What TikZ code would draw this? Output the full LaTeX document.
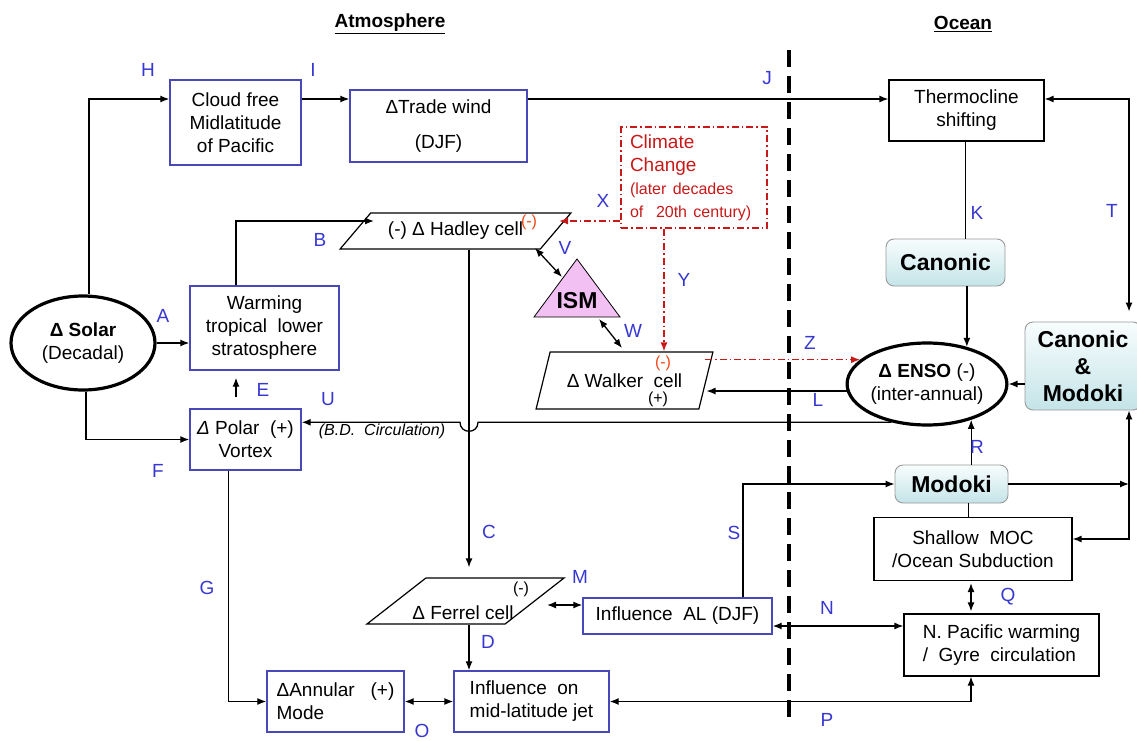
\documentclass[tikz,border=0pt]{standalone}
\usepackage{fontspec}
\setmainfont{Liberation Sans}
\usepackage{tikz}
\usetikzlibrary{arrows.meta,positioning,calc,shapes.geometric}

\definecolor{boxblue}{RGB}{72,72,185}
\definecolor{lblblue}{RGB}{55,55,210}
\definecolor{ccred}{RGB}{200,25,25}
\definecolor{signred}{RGB}{240,70,20}
\definecolor{ismpink}{RGB}{242,192,242}
\definecolor{tealtop}{RGB}{248,253,253}
\definecolor{tealbot}{RGB}{196,228,232}

\newcommand{\bodyfont}{\fontsize{19}{23}\selectfont}
\newcommand{\smallfont}{\fontsize{16}{19}\selectfont}
\newcommand{\bigbold}{\fontsize{23}{27}\selectfont\bfseries}

\begin{document}
\begin{tikzpicture}[
  x={(1pt,0pt)},
  y={(0pt,-1pt)},
  bluebox/.style={draw=boxblue,line width=1.4pt,inner sep=0pt,align=center,font=\bodyfont},
  blackbox/.style={draw=black,line width=1.2pt,inner sep=0pt,align=center,font=\bodyfont},
  oval/.style={draw,ellipse,line width=3.2pt,inner sep=0pt,align=center,font=\bodyfont},
  para/.style={draw,trapezium,trapezium stretches=true,line width=1.2pt,inner sep=0pt,font=\bodyfont},
  tealbox/.style={draw=gray!80,line width=0.9pt,rounded corners=8pt,top color=tealtop,bottom color=tealbot,inner sep=0pt,align=center,font=\bigbold},
  ccbox/.style={draw=ccred,text=ccred,line width=1.2pt,dash pattern=on 7pt off 3pt on 1.5pt off 3pt,inner sep=0pt,inner xsep=9pt,align=left,font=\bodyfont},
  lbl/.style={text=lblblue,font=\bodyfont,inner sep=0pt},
  sign/.style={font=\smallfont,inner sep=0pt},
  arr/.style={-{Latex[length=9pt,width=7pt]},line width=1.3pt},
  darr/.style={{Latex[length=9pt,width=7pt]}-{Latex[length=9pt,width=7pt]},line width=1.3pt},
  ccarr/.style={-{Latex[length=9pt,width=7pt]},color=ccred,line width=1.3pt,dash pattern=on 7pt off 3pt on 1.5pt off 3pt}]
\useasboundingbox (0,0) rectangle (1137,741);
% Headings and the atmosphere / ocean divide
\node[font=\bodyfont\bfseries] (atm) at (390,24) {\underline{Atmosphere}};
\node[font=\bodyfont\bfseries] (oce) at (963,24) {\underline{Ocean}};
\draw[line width=4pt,dash pattern=on 17pt off 9pt] (789,50) -- (789,722);
% Atmosphere side boxes
\node[oval,minimum width=144pt,minimum height=94pt] (solar) at (83,343) {{\bfseries Δ Solar}\\(Decadal)};
\node[bluebox,minimum width=131pt,minimum height=85pt] (cloud) at (235.5,122.5) {Cloud free\\Midlatitude\\of Pacific};
\node[bluebox,minimum width=177pt,minimum height=72pt] (trade) at (438.5,126) {ΔTrade wind\\[12pt](DJF)};
\node[bluebox,minimum width=149pt,minimum height=84pt] (warming) at (264.5,328) {Warming\\tropical\ \ lower\\stratosphere};
\node[bluebox,minimum width=111pt,minimum height=61pt] (polar) at (245.5,439.5) {\textit{Δ} Polar\ \ (+)\\Vortex};
\node[bluebox,minimum width=137pt,minimum height=61pt,align=left] (annular) at (335.5,701.5) {ΔAnnular\ \ \ (+)\\Mode};
\node[bluebox,minimum width=155pt,minimum height=61pt,align=left] (jet) at (531.5,701.5) {Influence\ \ on\\mid-latitude jet};
\node[bluebox,minimum width=189pt,minimum height=36pt] (al) at (677.5,616) {Influence\ \ AL (DJF)};
\node[ccbox,text width=128pt,minimum height=101pt] (climate) at (694,177.5) {Climate\\Change\\{\smallfont(later decades}\\{\smallfont of\ \ 20th century)}};
% Circulation cells
\node[para,trapezium left angle=36,trapezium right angle=144,minimum width=231pt,minimum height=36pt] (hadley) at (455.5,231) {(-) Δ Hadley cell};
\node[para,trapezium left angle=52,trapezium right angle=128,minimum width=177pt,minimum height=57pt] (walker) at (624.5,380.5) {Δ Walker\ \ cell};
\node[para,trapezium left angle=48,trapezium right angle=132,minimum width=197pt,minimum height=46pt] (ferrel) at (465.5,601) {\phantom{M}};
\node[font=\bodyfont,inner sep=0pt] (fertxt) at (463,613) {Δ Ferrel cell};
\node[sign,text=signred] (hadsign) at (529,222) {(-)};
\node[sign,text=signred] (walksign) at (663,363) {(-)};
\node[sign] (walkplus) at (658,399) {(+)};
\node[sign] (fersign) at (521,589) {(-)};
% Indian summer monsoon
\draw[fill=ismpink,line width=0.8pt] (577,259) -- (620,317) -- (534,317) -- cycle;
\node[font=\bigbold,inner sep=0pt] (ism) at (577,301) {ISM};
% Ocean side boxes
\node[blackbox,minimum width=155pt,minimum height=61pt] (thermo) at (966.5,110.5) {Thermocline\\shifting};
\node[tealbox,minimum width=119pt,minimum height=47pt] (canonic) at (945.5,262.5) {Canonic};
\node[oval,minimum width=142pt,minimum height=82pt] (enso) at (927,384) {{\bfseries Δ ENSO} (-)\\(inter-annual)};
\node[tealbox,minimum width=116pt,minimum height=88pt] (canmod) at (1083,366) {Canonic\\\&\\Modoki};
\node[tealbox,minimum width=113pt,minimum height=38pt] (modoki) at (951.5,484) {Modoki};
\node[blackbox,minimum width=198pt,minimum height=63pt] (shallow) at (973,549) {Shallow\ \ MOC\\/Ocean Subduction};
\node[blackbox,minimum width=195pt,minimum height=62pt,align=left] (npac) at (1001.5,645) {N. Pacific warming\\/\ \ Gyre\ \ circulation};
% Helper rows, columns and end points
\coordinate (toprow) at (0,99);
\coordinate (shrow) at (0,539);
\coordinate (nrow) at (0,626);
\coordinate (tcol) at (1129,0);
\coordinate (kcol) at (965,0);
\coordinate (rcol) at (968,0);
\coordinate (qcol) at (971,0);
\coordinate (ccol) at (469,0);
\coordinate (ecol) at (236,0);
\coordinate (ycol) at (664,0);
\coordinate (scol) at (743,0);
\coordinate (zcol) at (705,0);
\coordinate (hadB) at (374,221);
\coordinate (hadX) at (559,221);
\coordinate (hadV) at (535,248);
\coordinate (ismV) at (562,277);
\coordinate (ismW) at (599,319);
\coordinate (walkW) at (622,348);
\coordinate (ferM) at (547,605);
% Solar pathways
\draw[arr] ([xshift=6pt]solar.north) |- (cloud.west |- toprow);
\draw[arr] (cloud.east |- toprow) -- (trade.west |- toprow);
\draw[arr] (trade.east |- toprow) -- (thermo.west |- toprow);
\draw[arr] (solar.east) -- (solar.east -| warming.west);
\draw[arr] ([xshift=3pt]solar.south) |- (polar.west);
\draw[arr,shorten <=11pt,shorten >=7pt] (polar.north -| ecol) -- (warming.south -| ecol);
\draw[arr] (warming.north -| ecol) |- (hadB);
\draw[arr] ([xshift=-17pt]polar.south) |- (annular.west);
\draw[darr] (annular.east) -- (jet.west);
% Hadley -> Ferrel -> jet
\draw[arr,shorten >=10pt] (hadley.south -| ccol) -- (ferrel.north -| ccol);
\draw[arr] (ferrel.south -| ccol) -- (jet.north -| ccol);
\draw[darr] (ferM) -- (ferM -| al.west);
\draw[darr] (al.east |- nrow) -- (npac.west |- nrow);
\draw[arr] (al.north -| scol) |- (modoki.west);
\draw[darr] (npac.south -| qcol) |- (jet.east);
% Monsoon links
\draw[darr] (hadV) -- (ismV);
\draw[darr] (ismW) -- (walkW);
% Climate change (dash-dot)
\draw[ccarr] (climate.west |- hadX) -- (hadX);
\draw[ccarr] (climate.south -| ycol) -- (walker.north -| ycol);
\draw[ccarr] (enso.160 -| zcol) -- (enso.160);
% Ocean links
\draw[line width=1pt] (thermo.south -| kcol) -- (canonic.north -| kcol);
\draw[arr] (canonic.south -| enso.43) -- (enso.43);
\draw[arr] (canmod.west |- enso.east) -- (enso.east);
\draw[arr] (enso.185) -- (enso.185 -| walker.east);
\draw[darr,shorten <=10pt] (tcol |- canmod.north) |- (thermo.east |- toprow);
\draw[arr] (modoki.north -| enso.-39) -- (enso.-39);
\draw[line width=1pt] (modoki.south -| rcol) -- (shallow.north -| rcol);
\draw[arr] (modoki.east) -- (modoki.east -| tcol);
\draw[darr] (shallow.east |- shrow) -| (tcol |- canmod.south);
\draw[darr,shorten <=2pt,shorten >=2pt] (shallow.south -| qcol) -- (npac.north -| qcol);
% B.D. circulation back to the polar vortex, hopping over C
\draw[arr] (enso.227) -- ([xshift=9pt]ccol |- enso.227) .. controls +(0,12) and +(0,12) .. ([xshift=-9pt]ccol |- enso.227) -- (polar.east |- enso.227);
\node[font=\smallfont\itshape,inner sep=0pt] (bdc) at (382,431) {(B.D.\ \ Circulation)};
% Link letters
\node[lbl] (lA) at (163,316) {A};
\node[lbl] (lB) at (320,240) {B};
\node[lbl] (lC) at (489,532) {C};
\node[lbl] (lD) at (488,642) {D};
\node[lbl] (lE) at (263,390) {E};
\node[lbl] (lF) at (158,471) {F};
\node[lbl] (lG) at (207,588) {G};
\node[lbl] (lH) at (148,70) {H};
\node[lbl] (lI) at (313,70) {I};
\node[lbl] (lJ) at (767,78) {J};
\node[lbl] (lK) at (977,213) {K};
\node[lbl] (lL) at (818,400) {L};
\node[lbl] (lM) at (580,577) {M};
\node[lbl] (lN) at (827,608) {N};
\node[lbl] (lO) at (422,731) {O};
\node[lbl] (lP) at (827,720) {P};
\node[lbl] (lQ) at (1008,597) {Q};
\node[lbl] (lR) at (977,447) {R};
\node[lbl] (lS) at (734,533) {S};
\node[lbl] (lT) at (1112,211) {T};
\node[lbl] (lU) at (328,399) {U};
\node[lbl] (lV) at (565,248) {V};
\node[lbl] (lW) at (633,331) {W};
\node[lbl] (lX) at (603,201) {X};
\node[lbl] (lY) at (684,280) {Y};
\node[lbl] (lZ) at (810,343) {Z};
\end{tikzpicture}
\end{document}
